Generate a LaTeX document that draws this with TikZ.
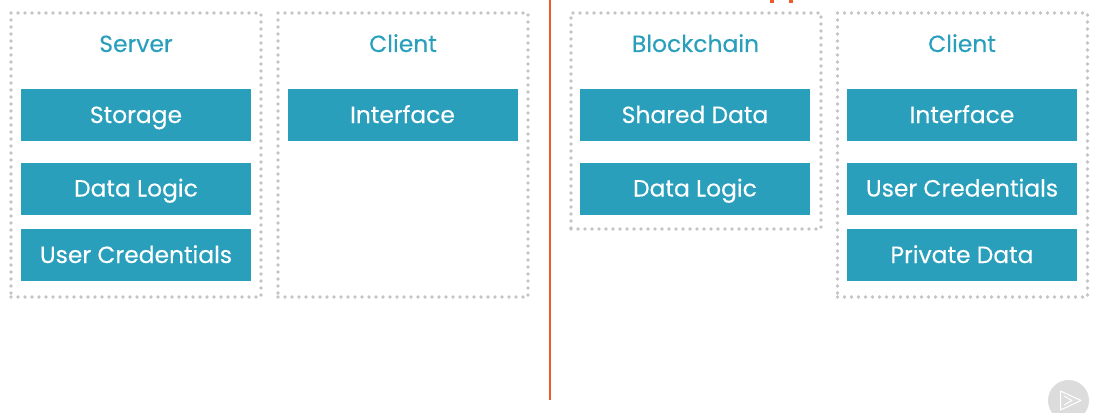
\documentclass[tikz,border=0pt]{standalone}
\usepackage{fontspec}
\setmainfont{Poppins}[FakeBold=0.25]
\usepackage{tikz}
\usetikzlibrary{positioning}
\definecolor{teal1}{HTML}{2A9FBC}
\definecolor{dots1}{HTML}{C4C4C4}
\definecolor{line1}{HTML}{F05A28}
\definecolor{badge1}{HTML}{DCDCDC}
\tikzset{
    frame/.style={draw=dots1,line width=3.8pt,line cap=round,
        dash pattern=on 0pt off 7pt,minimum width=250pt,inner sep=0pt},
    title/.style={text=teal1,text height=21pt,text depth=5pt,
        font=\fontsize{23.4}{26}\selectfont},
    box/.style={fill=teal1,text=white,minimum width=230pt,minimum height=52pt,
        text height=21pt,text depth=5pt,inner sep=0pt,
        font=\fontsize{23.4}{26}\selectfont},
}
\begin{document}
\begin{tikzpicture}[x=1pt,y=-1pt]
    \useasboundingbox (0,0) rectangle (1102,412);

    % divider
    \coordinate (top) at (549.5,0);
    \coordinate (bottom) at (549.5,400);
    \draw [line1,line width=2pt] (top) -- (bottom);
    \fill [line1] (770,0) rectangle (773.5,3.5);
    \fill [line1] (789,0) rectangle (792.5,3.5);

    % badge
    \fill [badge1] (1068.5,400.5) circle (20.5);
    \draw [white,line width=1pt,line join=round] (1060.5,391) -- (1081,400.5) -- (1060.5,410) -- cycle;
    \draw [white,line width=1pt,line join=round] (1064,396) -- (1072,400.5) -- (1064,405);

    \begin{scope}[every node/.style={frame,minimum height=284pt}]
        \node (F1) at (136,155) {};
        \node (F2) at (403,155) {};
        \node (F4) at (962.5,155) {};
    \end{scope}
    \node [frame,minimum height=216pt] (F3) at (696,121) {};

    \begin{scope}[every node/.style={title}]
        \node (T1) at (136,44) {Server};
        \node (T2) at (403,44) {Client};
        \node (T3) at (695.5,44) {Blockchain};
        \node (T4) at (962,44) {Client};
    \end{scope}

    \begin{scope}[every node/.style={box}]
        \node (A1) at (136,115) {Storage};
        \node (A2) at (136,188.5) {Data Logic};
        \node (A3) at (136,255) {User Credentials};
        \node (B1) at (402.5,115) {Interface};
        \node (C1) at (695,115) {Shared Data};
        \node (C2) at (695,188.5) {Data Logic};
        \node (D1) at (962,115) {Interface};
        \node (D2) at (962,188.5) {User Credentials};
        \node (D3) at (962,255) {Private Data};
    \end{scope}
\end{tikzpicture}
\end{document}
